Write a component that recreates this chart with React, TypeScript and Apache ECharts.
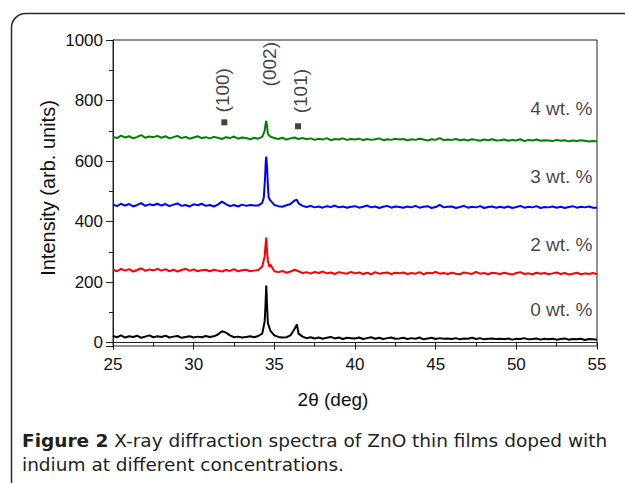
import React, { useEffect, useRef } from "react";
import * as echarts from "echarts";

// sampling positions of the scans (deg), 25..55 step 0.25
const twoTheta: number[] = [];
for (let i = 0; i <= 120; i++) twoTheta.push(25 + i * 0.25);

// Intensities (arb. units) at the positions above
const wt0 = [
  22, 18, 24, 17, 21, 19, 23, 16, 20, 24, 18, 21,
  19, 23, 17, 20, 22, 16, 19, 21, 17, 20, 18, 22,
  19, 21, 27, 38, 33, 24, 18, 20, 17, 19, 21, 18,
  22, 30, 189, 40, 24, 19, 17, 18, 24, 45, 30, 20,
  15, 18, 14, 17, 13, 16, 19, 14, 17, 12, 16, 15,
  14, 17, 12, 15, 18, 13, 16, 12, 15, 17, 13, 14,
  16, 12, 15, 13, 17, 11, 14, 16, 12, 15, 13, 14,
  12, 15, 11, 14, 13, 16, 12, 15, 11, 13, 14, 12,
  13, 11, 14, 10, 13, 12, 15, 11, 12, 14, 10, 13,
  11, 13, 10, 12, 14, 10, 12, 11, 13, 9, 12, 11,
  10,
];
const wt0Peaks = [[34.4, 70], [34.45, 120], [34.55, 120], [34.6, 65], [36.4, 60]];

const wt2 = [
  241, 236, 244, 238, 243, 235, 240, 246, 237, 242, 239, 244,
  238, 243, 236, 241, 235, 240, 244, 237, 242, 236, 239, 241,
  236, 241, 238, 235, 240, 237, 243, 236, 239, 241, 236, 238,
  240, 252, 347, 258, 236, 233, 237, 231, 235, 241, 236, 230,
  233, 228, 234, 230, 235, 229, 232, 227, 233, 230, 228, 234,
  229, 232, 227, 231, 226, 233, 228, 230, 232, 227, 231, 229,
  232, 227, 230, 228, 233, 226, 231, 229, 234, 228, 230, 227,
  231, 228, 226, 232, 229, 227, 234, 228, 230, 226, 231, 229,
  227, 231, 228, 225, 230, 233, 227, 229, 226, 231, 228, 230,
  226, 229, 232, 227, 230, 225, 228, 231, 226, 229, 227, 230,
  226,
];
const wt2Peaks = [[34.4, 285], [34.45, 320], [34.55, 300], [34.6, 270], [34.7, 250]];

const wt3 = [
  456, 451, 459, 453, 458, 450, 455, 461, 452, 457, 454, 459,
  453, 458, 451, 456, 460, 452, 455, 450, 457, 454, 459, 452,
  455, 450, 456, 466, 458, 451, 455, 450, 456, 452, 455, 453,
  453, 462, 615, 470, 455, 451, 449, 454, 458, 470, 460, 452,
  448, 452, 447, 450, 446, 451, 448, 453, 447, 450, 446, 449,
  451, 446, 449, 453, 447, 450, 445, 449, 452, 446, 450, 448,
  446, 450, 447, 452, 446, 449, 451, 445, 448, 455, 447, 449,
  450, 445, 448, 452, 446, 449, 447, 451, 445, 448, 450, 446,
  449, 446, 450, 445, 448, 452, 446, 449, 447, 451, 445, 448,
  447, 450, 446, 449, 445, 448, 451, 446, 449, 447, 450, 446,
  446,
];
const wt3Peaks = [[34.35, 480], [34.42, 540], [34.47, 600], [34.55, 580], [34.6, 520], [34.65, 480], [36.4, 472]];

const wt4 = [
  680, 676, 684, 678, 682, 675, 680, 686, 677, 681, 679, 683,
  677, 682, 675, 679, 683, 676, 680, 674, 678, 682, 676, 679,
  675, 680, 677, 673, 679, 676, 681, 674, 678, 676, 672, 677,
  674, 680, 733, 681, 676, 673, 677, 671, 675, 678, 673, 676,
  672, 675, 670, 674, 671, 676, 669, 673, 671, 675, 670, 673,
  671, 674, 669, 673, 670, 672, 675, 669, 672, 670, 674, 671,
  673, 669, 672, 670, 674, 671, 668, 672, 670, 676, 669, 671,
  670, 673, 669, 671, 668, 672, 670, 667, 671, 669, 672, 668,
  669, 671, 667, 670, 668, 672, 666, 670, 668, 671, 667, 669,
  668, 666, 670, 667, 669, 665, 668, 666, 669, 667, 665, 666,
  665,
];
const wt4Peaks = [[34.4, 700], [34.45, 720], [34.55, 715], [34.6, 690]];

const seriesNames = ["0 wt. %", "2 wt. %", "3 wt. %", "4 wt. %"];
const seriesColors = ["#000000", "#ff0000", "#0000ff", "#008000"];
// label anchor positions (deg, intensity)
const seriesLabelPos = [[54.72, 108], [54.72, 323], [54.72, 550], [54.72, 775]];

const reflexNames = ["(100)", "(002)", "(101)"];
const reflexLabelPos = [[31.8, 834], [34.68, 920], [36.6, 831]];
const reflexMarkers = [[31.9, 728], [36.47, 715]];

const xTicks = [25, 30, 35, 40, 45, 50, 55];
const yTicks = [0, 200, 400, 600, 800, 1000];

function build(values: number[], extras: number[][]) {
  const pts = values.map((v, i) => [twoTheta[i], v]);
  return pts.concat(extras).sort((a, b) => a[0] - b[0]);
}

const FONT = "Liberation Sans";
const CAP_FONT = "DejaVu Sans";
const CAP_SIZE = 18.5;

export default function App() {
  const ref = useRef<HTMLDivElement>(null);
  useEffect(() => {
    if (!ref.current) return;
    const chart = echarts.init(ref.current, null, { renderer: "svg" });
    const spectra = [
      build(wt0, wt0Peaks),
      build(wt2, wt2Peaks),
      build(wt3, wt3Peaks),
      build(wt4, wt4Peaks),
    ];
    const lineSeries = spectra.map((d, i) => ({
      type: "line",
      name: seriesNames[i],
      data: d,
      showSymbol: false,
      symbol: "none",
      lineStyle: { color: seriesColors[i], width: 2 },
      itemStyle: { color: seriesColors[i] },
      z: 2,
    }));
    const option: any = {
      animation: false,
      backgroundColor: "#ffffff",
      grid: {
        left: 113,
        right: 28,
        top: 40,
        bottom: 137,
        show: true,
        borderColor: "#222",
        borderWidth: 1,
      },
      xAxis: {
        type: "value",
        min: xTicks[0],
        max: xTicks[xTicks.length - 1],
        interval: 5,
        axisLine: { show: true, lineStyle: { color: "#222", width: 1 } },
        axisTick: { show: true, inside: false, length: 7, lineStyle: { color: "#222" } },
        minorTick: { show: true, splitNumber: 2, length: 4, lineStyle: { color: "#222" } },
        splitLine: { show: false },
        axisLabel: { fontFamily: FONT, fontSize: 17, color: "#111", margin: 10 },
      },
      yAxis: {
        type: "value",
        min: -11,
        max: yTicks[yTicks.length - 1],
        axisLine: { show: true, lineStyle: { color: "#222", width: 1 } },
        axisTick: { show: true, inside: false, length: 7, lineStyle: { color: "#222" } },
        minorTick: { show: true, splitNumber: 2, length: 4, lineStyle: { color: "#222" } },
        splitLine: { show: false },
        axisLabel: {
          fontFamily: FONT,
          fontSize: 17,
          color: "#111",
          margin: 10,
          formatter: (v: number) => (yTicks.indexOf(v) >= 0 ? String(v) : ""),
        },
      },
      series: [
        ...lineSeries,
        {
          type: "scatter",
          data: reflexMarkers,
          symbol: "rect",
          symbolSize: 6,
          itemStyle: { color: "#1a1208" },
          z: 3,
        },
        {
          type: "scatter",
          data: reflexNames.map((n, i) => ({ name: n, value: reflexLabelPos[i] })),
          symbolSize: 0,
          itemStyle: { color: "transparent" },
          label: {
            show: true,
            position: "inside",
            rotate: 90,
            formatter: "{b}",
            fontFamily: FONT,
            fontSize: 19,
            color: "#111",
            align: "center",
            verticalAlign: "middle",
          },
          z: 3,
        },
        {
          type: "scatter",
          data: seriesNames.map((n, i) => ({ name: n, value: seriesLabelPos[i] })),
          symbolSize: 0,
          itemStyle: { color: "transparent" },
          label: {
            show: true,
            position: "inside",
            formatter: "{b}",
            fontFamily: FONT,
            fontSize: 19,
            color: "#111",
            align: "right",
            verticalAlign: "middle",
          },
          z: 3,
        },
      ],
      graphic: [
        {
          type: "rect",
          shape: { x: 11.5, y: 13.5, width: 640, height: 500, r: 14 },
          style: { fill: "none", stroke: "#2a2a2a", lineWidth: 1.5 },
          z: -1,
        },
        {
          type: "text",
          x: 48,
          y: 188,
          rotation: Math.PI / 2,
          style: {
            text: "Intensity (arb. units)",
            fontFamily: FONT,
            fontSize: 20,
            fill: "#111",
            align: "center",
            verticalAlign: "middle",
          },
        },
        {
          type: "text",
          x: 333,
          y: 399,
          style: {
            text: "2θ (deg)",
            fontFamily: FONT,
            fontSize: 19,
            fill: "#111",
            align: "center",
            verticalAlign: "middle",
          },
        },
        {
          type: "text",
          x: 22,
          y: 440,
          style: {
            text: "{b|Figure 2}{n| X-ray diffraction spectra of ZnO thin films doped with}",
            verticalAlign: "middle",
            rich: {
              b: { fontFamily: CAP_FONT, fontSize: CAP_SIZE, fontWeight: "bold", fill: "#231f20" },
              n: { fontFamily: CAP_FONT, fontSize: CAP_SIZE, fill: "#231f20" },
            },
          },
        },
        {
          type: "text",
          x: 22,
          y: 464,
          style: {
            text: "indium at different concentrations.",
            fontFamily: CAP_FONT,
            fontSize: CAP_SIZE,
            fill: "#231f20",
            verticalAlign: "middle",
          },
        },
      ],
    };
    chart.setOption(option);
    return () => chart.dispose();
  }, []);
  return (
    <div
      ref={ref}
      style={{ position: "fixed", left: 0, top: 0, width: 625, height: 483 }}
    />
  );
}
